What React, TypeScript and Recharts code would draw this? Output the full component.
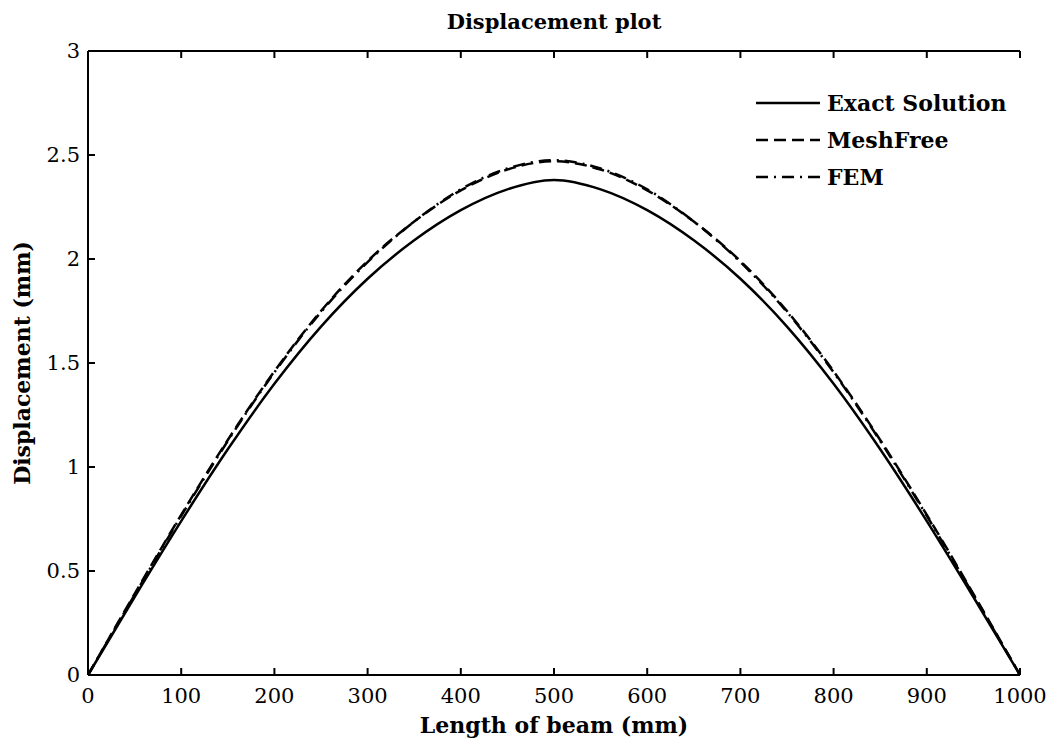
import { LineChart, Line, XAxis, YAxis, Legend } from 'recharts';
import * as React from 'react';

const beamX = [0, 50, 100, 150, 200, 250, 300, 350, 400, 450, 500, 550, 600, 650, 700, 750, 800, 850, 900, 950, 1000];
const exactSolution = [0, 0.375, 0.74, 1.085, 1.4, 1.675, 1.905, 2.09, 2.235, 2.335, 2.38, 2.335, 2.235, 2.09, 1.905, 1.675, 1.4, 1.085, 0.74, 0.375, 0];
const meshFree = [0, 0.39, 0.77, 1.13, 1.46, 1.75, 1.99, 2.18, 2.33, 2.43, 2.47, 2.43, 2.33, 2.18, 1.99, 1.75, 1.46, 1.13, 0.77, 0.39, 0];
const fem = [0, 0.385, 0.765, 1.125, 1.455, 1.745, 1.985, 2.18, 2.335, 2.435, 2.475, 2.435, 2.335, 2.18, 1.985, 1.745, 1.455, 1.125, 0.765, 0.385, 0];
const xTicks = [0, 100, 200, 300, 400, 500, 600, 700, 800, 900, 1000];
const yTicks = [0, 0.5, 1, 1.5, 2, 2.5, 3];

const data = beamX.map((x, i) => ({ x, exact: exactSolution[i], mesh: meshFree[i], fem: fem[i] }));

const serif = '"DejaVu Serif", serif';

const legendRows = [
  { name: 'Exact Solution', dash: undefined as string | undefined },
  { name: 'MeshFree', dash: '12 6' },
  { name: 'FEM', dash: '12 6 2 6' },
];

function renderLegend() {
  return (
    <svg width={290} height={110} style={{ display: 'block', overflow: 'visible' }}>
      {legendRows.map((r, i) => (
        <g key={r.name}>
          <line x1={6} x2={70} y1={15 + i * 37} y2={15 + i * 37} stroke="#000" strokeWidth={2.5} strokeDasharray={r.dash} />
          <text x={77} y={15 + i * 37} dy="0.35em" fontFamily={serif} fontWeight="bold" fontSize={22} fill="#000">{r.name}</text>
        </g>
      ))}
    </svg>
  );
}

export default function App() {
  return (
    <div style={{ position: 'absolute', left: 0, top: 0, background: '#fff' }}>
      <LineChart width={1053} height={747} data={data} margin={{ top: 0, right: 33, bottom: 10, left: 0 }}>
        <XAxis
          dataKey="x" type="number" domain={[0, 1000]} ticks={xTicks}
          stroke="#000" strokeWidth={2} tickSize={-7} tickMargin={20}
          tick={{ fill: '#000', fontFamily: serif, fontSize: 21 }}
          height={62}
          label={{ value: 'Length of beam (mm)', position: 'insideBottom', offset: 4, fill: '#000', fontFamily: serif, fontWeight: 'bold', fontSize: 22 }}
        />
        <XAxis
          xAxisId="top" orientation="top" dataKey="x" type="number" domain={[0, 1000]} ticks={xTicks}
          stroke="#000" strokeWidth={2} tickSize={-7} tickFormatter={() => ''} height={51}
          label={{ value: 'Displacement plot', position: 'center', dy: -4, fill: '#000', fontFamily: serif, fontWeight: 'bold', fontSize: 21 }}
        />
        <YAxis
          type="number" domain={[0, 3]} ticks={yTicks}
          stroke="#000" strokeWidth={2} tickSize={-7} tickMargin={15}
          tick={{ fill: '#000', fontFamily: serif, fontSize: 21 }}
          width={88}
          label={{ value: 'Displacement (mm)', angle: -90, position: 'insideLeft', offset: 22, style: { textAnchor: 'middle' }, fill: '#000', fontFamily: serif, fontWeight: 'bold', fontSize: 22 }}
        />
        <YAxis
          yAxisId="right" orientation="right" type="number" domain={[0, 3]} ticks={yTicks}
          stroke="#000" strokeWidth={2} tickSize={-7} tickFormatter={() => ''} width={0}
        />
        <Legend content={renderLegend} wrapperStyle={{ position: 'absolute', left: 750, top: 88, width: 290, height: 0, overflow: 'visible' }} />
        <Line dataKey="exact" name="Exact Solution" type="monotone" stroke="#000" strokeWidth={2.5} dot={false} isAnimationActive={false} />
        <Line dataKey="mesh" name="MeshFree" type="monotone" stroke="#000" strokeWidth={2.5} strokeDasharray="12 6" dot={false} isAnimationActive={false} />
        <Line dataKey="fem" name="FEM" type="monotone" stroke="#000" strokeWidth={2.5} strokeDasharray="12 6 2 6" dot={false} isAnimationActive={false} />
      </LineChart>
    </div>
  );
}
